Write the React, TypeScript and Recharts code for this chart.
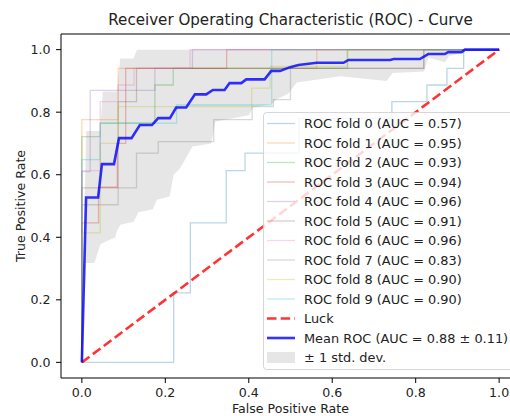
import React from 'react';
import { ComposedChart, Line, Area, XAxis, YAxis, Legend, Label, ReferenceLine } from 'recharts';

const FONT = '"DejaVu Sans", sans-serif';
const TEXT = '#222';

const axisTicks = [0, 0.2, 0.4, 0.6, 0.8, 1.0];

const foldAuc = [0.57, 0.95, 0.93, 0.94, 0.96, 0.91, 0.96, 0.83, 0.90, 0.90];
const foldColors = ['#1f77b4', '#ff7f0e', '#2ca02c', '#d62728', '#9467bd', '#8c564b', '#e377c2', '#7f7f7f', '#bcbd22', '#17becf'];

// [fpr, tpr] corners of each fold's ROC curve
const fold0 = [[0, 0], [0.22, 0], [0.22, 0.222], [0.26, 0.222], [0.26, 0.446], [0.346, 0.446], [0.346, 0.613], [0.391, 0.613], [0.391, 0.669], [0.52, 0.669], [0.52, 0.78], [0.743, 0.78], [0.743, 0.834], [0.827, 0.834], [0.827, 0.887], [0.875, 0.887], [0.875, 0.94], [0.915, 0.94], [0.915, 1], [1, 1]];
const fold1 = [[0, 0], [0, 0.776], [0.087, 0.776], [0.087, 0.94], [0.563, 0.94], [0.563, 1], [1, 1]];
const fold2 = [[0, 0], [0, 0.722], [0.044, 0.722], [0.044, 0.765], [0.175, 0.765], [0.175, 0.887], [0.219, 0.887], [0.219, 0.94], [0.637, 0.94], [0.637, 1], [1, 1]];
const fold3 = [[0, 0], [0, 0.446], [0.04, 0.446], [0.04, 0.56], [0.085, 0.56], [0.085, 0.7], [0.105, 0.7], [0.105, 0.94], [0.347, 0.94], [0.347, 1], [1, 1]];
const fold4 = [[0, 0], [0, 0.61], [0.02, 0.61], [0.02, 0.87], [0.175, 0.87], [0.175, 0.94], [0.265, 0.94], [0.265, 1], [1, 1]];
const fold5 = [[0, 0], [0, 0.558], [0.087, 0.558], [0.087, 0.834], [0.131, 0.834], [0.131, 0.94], [0.819, 0.94], [0.819, 1], [1, 1]];
const fold6 = [[0, 0], [0, 0.613], [0.044, 0.613], [0.044, 0.834], [0.087, 0.834], [0.087, 0.887], [0.125, 0.887], [0.125, 0.94], [0.259, 0.94], [0.259, 1], [1, 1]];
const fold7 = [[0, 0], [0, 0.504], [0.087, 0.504], [0.087, 0.558], [0.131, 0.558], [0.131, 0.669], [0.183, 0.669], [0.183, 0.706], [0.316, 0.706], [0.316, 0.776], [0.408, 0.776], [0.408, 0.818], [0.459, 0.818], [0.459, 0.84], [0.5, 0.84], [0.5, 0.94], [0.82, 0.94], [0.82, 1], [1, 1]];
const fold8 = [[0, 0], [0, 0.414], [0.044, 0.414], [0.044, 0.7], [0.087, 0.7], [0.087, 0.818], [0.407, 0.818], [0.407, 0.877], [0.451, 0.877], [0.451, 0.946], [0.635, 0.946], [0.635, 1], [1, 1]];
const fold9 = [[0, 0], [0, 0.648], [0.044, 0.648], [0.044, 0.765], [0.227, 0.765], [0.227, 0.823], [0.455, 0.823], [0.455, 1], [1, 1]];
const folds = [fold0, fold1, fold2, fold3, fold4, fold5, fold6, fold7, fold8, fold9];

const meanRoc = [[0, 0], [0.0101, 0.527], [0.039, 0.527], [0.048, 0.634], [0.077, 0.634], [0.089, 0.717], [0.119, 0.717], [0.139, 0.759], [0.168, 0.759], [0.183, 0.781], [0.211, 0.781], [0.226, 0.815], [0.25, 0.815], [0.271, 0.857], [0.298, 0.857], [0.314, 0.871], [0.342, 0.871], [0.354, 0.893], [0.382, 0.893], [0.394, 0.905], [0.438, 0.905], [0.454, 0.932], [0.475, 0.932], [0.499, 0.944], [0.519, 0.951], [0.563, 0.958], [0.627, 0.958], [0.639, 0.967], [0.739, 0.967], [0.747, 0.97], [0.81, 0.97], [0.83, 0.986], [0.87, 0.986], [0.878, 0.992], [0.91, 0.992], [0.918, 1], [1, 1]];
const luck = [[0, 0], [1, 1]];

const bandFpr = [0, 0.0101, 0.03, 0.044, 0.05, 0.08, 0.084, 0.092, 0.124, 0.132, 0.135, 0.17, 0.18, 0.21, 0.22, 0.235, 0.265, 0.31, 0.32, 0.4, 0.41, 0.455, 0.465, 0.495, 0.515, 0.62, 0.73, 0.745, 0.82, 0.83, 0.87, 0.88, 0.91, 0.92, 1];
const bandLower = [0, 0.318, 0.318, 0.376, 0.382, 0.4, 0.42, 0.44, 0.45, 0.47, 0.48, 0.49, 0.52, 0.53, 0.6, 0.62, 0.69, 0.7, 0.77, 0.79, 0.815, 0.825, 0.84, 0.86, 0.895, 0.915, 0.9, 0.925, 0.93, 0.975, 0.96, 0.98, 0.99, 1, 1];
const bandUpper = [0, 0.74, 0.74, 0.74, 0.866, 0.866, 0.866, 0.972, 0.972, 1, 1, 1, 1, 1, 1, 1, 1, 1, 1, 1, 1, 1, 1, 1, 1, 1, 1, 1, 1, 1, 1, 1, 1, 1, 1];

const toPoints = (pairs: number[][]) => pairs.map(([x, y]) => ({ x, y }));
const bandData = bandFpr.map((x, i) => ({ x, range: [bandLower[i], bandUpper[i]] }));

const legendRows = [
  ...foldAuc.map((auc, i) => ({ label: `ROC fold ${i} (AUC = ${auc.toFixed(2)})`, kind: 'fold', color: foldColors[i] })),
  { label: 'Luck', kind: 'luck', color: 'red' },
  { label: 'Mean ROC (AUC = 0.88 \u00b1 0.11)', kind: 'mean', color: 'blue' },
  { label: '\u00b1 1 std. dev.', kind: 'band', color: '#808080' },
];

const renderLegend = () => (
  <svg width={260} height={260} style={{ display: 'block' }}>
    <rect x={0.5} y={0.5} width={251} height={257} rx={3} fill="#fff" fillOpacity={0.8} stroke="#ccc" strokeOpacity={0.8} />
    {legendRows.map((row, i) => {
      const cy = 11.5 + i * 19.5;
      let swatch;
      if (row.kind === 'fold') swatch = <line x1={4} x2={32} y1={cy} y2={cy} stroke={row.color} strokeOpacity={0.3} strokeWidth={1.3} />;
      else if (row.kind === 'luck') swatch = <line x1={4} x2={32} y1={cy} y2={cy} stroke={row.color} strokeOpacity={0.8} strokeWidth={2.6} strokeDasharray="9.5 4.2" />;
      else if (row.kind === 'mean') swatch = <line x1={4} x2={32} y1={cy} y2={cy} stroke={row.color} strokeOpacity={0.8} strokeWidth={2.6} />;
      else swatch = <rect x={4} y={cy - 5.5} width={28} height={11} fill={row.color} fillOpacity={0.2} />;
      return (
        <g key={row.label}>
          {swatch}
          <text x={41} y={cy + 4.6} fontFamily={FONT} fontSize={12.9} fill={TEXT}>{row.label}</text>
        </g>
      );
    })}
  </svg>
);

const tickStyle = { fill: TEXT, fontSize: 12.6, fontFamily: FONT };

export default function App() {
  return (
    <div style={{ position: 'absolute', left: 0, top: 0, width: 510, height: 416, overflow: 'hidden', background: '#fff' }}>
      <ComposedChart width={530} height={416} margin={{ top: 34, right: 10, bottom: 0, left: 0 }}>
        <XAxis dataKey="x" type="number" domain={[-0.05, 1.05]} allowDataOverflow ticks={axisTicks} tickFormatter={(v: number) => v.toFixed(1)} height={38} tickSize={5} tickMargin={5} tick={tickStyle} axisLine={{ stroke: '#000', strokeWidth: 1 }} tickLine={{ stroke: '#000' }}>
          <Label value="False Positive Rate" position="insideBottom" offset={3} style={{ fontSize: 12.6, fontFamily: FONT, fill: TEXT }} />
        </XAxis>
        <YAxis type="number" domain={[-0.05, 1.05]} allowDataOverflow ticks={axisTicks} tickFormatter={(v: number) => v.toFixed(1)} width={61} tickSize={5} tickMargin={5.5} tick={tickStyle} axisLine={{ stroke: '#000', strokeWidth: 1 }} tickLine={{ stroke: '#000' }}>
          <Label value="True Positive Rate" angle={-90} position="insideLeft" offset={21} style={{ fontSize: 12.6, fontFamily: FONT, fill: TEXT, textAnchor: 'middle' }} />
        </YAxis>
        <ReferenceLine y={1.05} stroke="#000" strokeWidth={1} />
        <Area data={bandData} dataKey="range" type="linear" stroke="none" fill="#808080" fillOpacity={0.2} isAnimationActive={false} activeDot={false} />
        {folds.map((f, i) => (
          <Line key={i} data={toPoints(f)} dataKey="y" type="linear" stroke={foldColors[i]} strokeOpacity={0.3} strokeWidth={1.3} dot={false} activeDot={false} isAnimationActive={false} />
        ))}
        <Line data={toPoints(luck)} dataKey="y" type="linear" stroke="red" strokeOpacity={0.8} strokeWidth={2.6} strokeDasharray="9.5 4.2" dot={false} activeDot={false} isAnimationActive={false} />
        <Line data={toPoints(meanRoc)} dataKey="y" type="linear" stroke="blue" strokeOpacity={0.8} strokeWidth={2.6} dot={false} activeDot={false} isAnimationActive={false} />
        <Legend layout="vertical" align="center" verticalAlign="middle" wrapperStyle={{ left: 263, top: 112, width: 260, height: 260 }} content={renderLegend} />
      </ComposedChart>
      <svg width={510} height={34} style={{ position: 'absolute', left: 0, top: 0, pointerEvents: 'none' }}>
        <text x={290.5} y={25} textAnchor="middle" fontFamily={FONT} fontSize={15.1} fill={TEXT}>Receiver Operating Characteristic (ROC) - Curve</text>
      </svg>
    </div>
  );
}
